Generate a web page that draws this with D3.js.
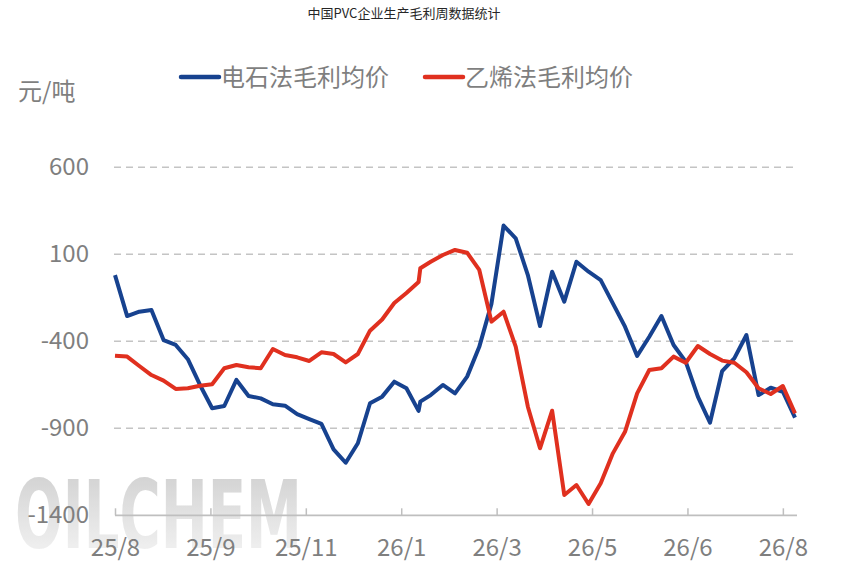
<!DOCTYPE html>
<html>
<head>
<meta charset="utf-8">
<script src="https://cdn.jsdelivr.net/npm/d3@7"></script>
<style>
  body { margin: 0; background: #ffffff; }
  text { font-family: "Noto Sans CJK SC", "Open Sans", sans-serif; }
  .axis text { fill: #7f7f7f; font-size: 24px; }
</style>
</head>
<body>
<div id="chart"></div>
<script>

// weekly dates (one extra record on 2026-01-24)
var dates = ["2025-08-01", "2025-08-08", "2025-08-15", "2025-08-22", "2025-08-29",
  "2025-09-05", "2025-09-12", "2025-09-19", "2025-09-26", "2025-10-03",
  "2025-10-10", "2025-10-17", "2025-10-24", "2025-10-31", "2025-11-07",
  "2025-11-14", "2025-11-21", "2025-11-28", "2025-12-05", "2025-12-12",
  "2025-12-19", "2025-12-26", "2026-01-02", "2026-01-09", "2026-01-16",
  "2026-01-23", "2026-01-24", "2026-01-30", "2026-02-06", "2026-02-13",
  "2026-02-20", "2026-02-27", "2026-03-06", "2026-03-13", "2026-03-20",
  "2026-03-27", "2026-04-03", "2026-04-10", "2026-04-17", "2026-04-24",
  "2026-05-01", "2026-05-08", "2026-05-15", "2026-05-22", "2026-05-29",
  "2026-06-05", "2026-06-12", "2026-06-19", "2026-06-26", "2026-07-03",
  "2026-07-10", "2026-07-17", "2026-07-24", "2026-07-31", "2026-08-07",
  "2026-08-14", "2026-08-21", "2026-08-28"];

// 电石法毛利均价
var carbide = [-20, -255, -230, -220, -393, -421, -503, -651, -785, -772,
  -622, -714, -728, -762, -770, -818, -847, -875, -1021, -1098,
  -986, -756, -718, -632, -670, -800, -747, -709, -651, -699,
  -603, -432, -185, 265, 192, -19, -312, 0, -172, 57,
  0, -48, -182, -316, -484, -374, -255, -421, -517, -718,
  -868, -571, -498, -364, -709, -667, -690, -839];

// 乙烯法毛利均价
var ethylene = [-483, -488, -542, -594, -626, -674, -670, -655, -647, -555,
  -536, -549, -555, -444, -479, -492, -513, -463, -473, -521,
  -473, -339, -275, -180, -122, -59, 20, 57, 96, 125,
  109, 10, -287, -230, -431, -776, -1015, -799, -1283, -1226,
  -1335, -1216, -1044, -920, -699, -565, -555, -488, -523, -427,
  -473, -511, -523, -578, -670, -703, -657, -814];

// axis ticks (date axis, major unit 55 days)
var tickDates = ["2025-08-01", "2025-09-25", "2025-11-19", "2026-01-13",
  "2026-03-09", "2026-05-03", "2026-06-27", "2026-08-21"];
var tickLabels = ["25/8", "25/9", "25/11", "26/1", "26/3", "26/5", "26/6", "26/8"];
var yTicks = [600, 100, -400, -900, -1400];

var seriesNames = ["电石法毛利均价", "乙烯法毛利均价"];
var seriesColors = ["#17428f", "#e0301f"];

window.onload = function () {

  var parse = d3.timeParse("%Y-%m-%d");
  var width = 842, height = 574;

  var svg = d3.select("#chart")
              .append("svg")
                .attr("width", width)
                .attr("height", height);

  // watermark gradient
  var grad = svg.append("defs").append("linearGradient")
      .attr("id", "wm")
      .attr("x1", 0).attr("y1", 0).attr("x2", 0).attr("y2", 1);
  grad.append("stop").attr("offset", "0%").attr("stop-color", "#c2c2c2");
  grad.append("stop").attr("offset", "100%").attr("stop-color", "#f6f6f6");

  svg.append("text")
    .attr("x", 15)
    .attr("y", 548)
    .attr("textLength", 287)
    .attr("lengthAdjust", "spacingAndGlyphs")
    .style("font-family", "'DejaVu Sans Condensed', 'DejaVu Sans', sans-serif")
    .style("font-weight", "bold")
    .style("font-size", "94px")
    .attr("fill", "url(#wm)")
    .attr("opacity", 0.8)
    .text("OILCHEM");

  // scales
  var x = d3.scaleTime()
      .domain([parse(dates[0]), parse(dates[dates.length - 1])])
      .range([115, 795]);

  var y = d3.scaleLinear()
      .domain([-1400, 600])
      .range([515.3, 167.3]);

  // dashed grid lines
  svg.append("g")
    .selectAll("line")
    .data(yTicks.filter(function (d) { return d != -1400; }))
    .enter()
    .append("line")
      .attr("x1", 114)
      .attr("x2", 797)
      .attr("y1", function (d) { return y(d); })
      .attr("y2", function (d) { return y(d); })
      .attr("stroke", "#c4c4c4")
      .attr("stroke-width", 1.5)
      .attr("stroke-dasharray", "7,5");

  // y axis labels, plain hyphen and no thousands separator
  var yAxis = svg.append("g")
      .attr("class", "axis")
      .attr("transform", "translate(114,0)")
      .call(d3.axisLeft(y)
        .tickValues(yTicks)
        .tickFormat(function (d) { return String(d); })
        .tickSize(0)
        .tickPadding(25));
  yAxis.select(".domain").remove();

  // x axis
  var xAxis = svg.append("g")
      .attr("class", "axis")
      .attr("transform", "translate(0,515.3)")
      .call(d3.axisBottom(x)
        .tickValues(tickDates.map(parse))
        .tickFormat(function (d, i) { return tickLabels[i]; })
        .tickSizeInner(-7)
        .tickSizeOuter(0)
        .tickPadding(24));
  xAxis.select(".domain")
    .attr("d", "M115,0H797")
    .attr("stroke", "#bfbfbf")
    .attr("stroke-width", 1.8);
  xAxis.selectAll(".tick line")
    .attr("stroke", "#bfbfbf")
    .attr("stroke-width", 1.5);

  // lines
  var line = d3.line()
      .x(function (d, i) { return x(parse(dates[i])); })
      .y(function (d) { return y(d); });

  [carbide, ethylene].forEach(function (values, k) {
    svg.append("path")
      .datum(values)
      .attr("d", line)
      .attr("fill", "none")
      .attr("stroke", seriesColors[k])
      .attr("stroke-width", 4)
      .attr("stroke-linejoin", "round");
  });

  // title
  svg.append("text")
    .attr("x", 404)
    .attr("y", 18)
    .attr("text-anchor", "middle")
    .style("font-size", "13px")
    .attr("fill", "#262626")
    .text("中国PVC企业生产毛利周数据统计");

  // unit
  svg.append("text")
    .attr("x", 18)
    .attr("y", 100)
    .style("font-size", "24px")
    .attr("fill", "#7f7f7f")
    .text("元/吨");

  // legend
  var legendX = [180, 424];
  var legend = svg.append("g")
    .selectAll("g")
    .data(seriesNames)
    .enter()
    .append("g")
      .attr("transform", function (d, i) { return "translate(" + legendX[i] + ",77)"; });

  legend.append("line")
    .attr("x1", 1)
    .attr("x2", 39)
    .attr("stroke", function (d, i) { return seriesColors[i]; })
    .attr("stroke-width", 4.5)
    .attr("stroke-linecap", "round");

  legend.append("text")
    .attr("x", 41)
    .attr("y", 8.5)
    .style("font-size", "24px")
    .attr("fill", "#7f7f7f")
    .text(function (d) { return d; });

};

</script>
</body>
</html>
